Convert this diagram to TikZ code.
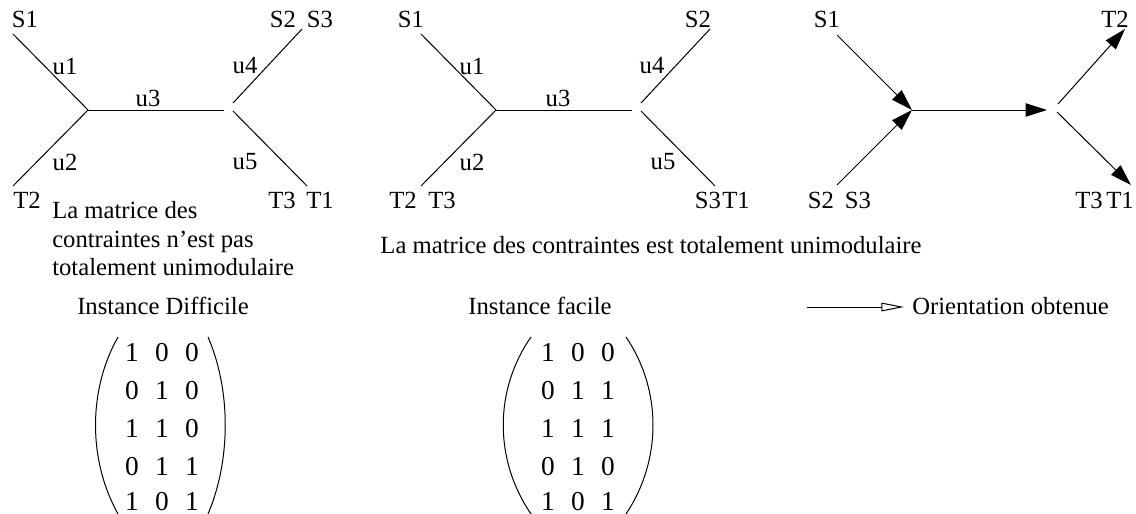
\documentclass[tikz,border=0pt]{standalone}
\usepackage{fontspec}
\setmainfont{Liberation Serif}
\usetikzlibrary{arrows.meta}
\begin{document}
\begin{tikzpicture}[x=0.75pt,y=-0.75pt,
  edge/.style={line width=0.75pt},
  dirarrow/.style={line width=0.75pt,-{Triangle[length=16pt,width=10pt]}},
  legendarrow/.style={line width=0.75pt,-{Triangle[open,length=17pt,width=6.5pt]}},
  lbl/.style={inner sep=0pt,font=\fontsize{18.5}{22}\selectfont},
  digit/.style={inner sep=0pt,anchor=base,font=\fontsize{20.5}{24}\selectfont},
  paren/.style={line width=0.75pt}]
\useasboundingbox (0,0) rectangle (1136,514);

% ---------- Instance difficile : graph ----------
\coordinate (a1) at (13,34);
\coordinate (a2) at (13,186);
\coordinate (aL) at (88,110);
\coordinate (aR) at (224,110);
\coordinate (a4s) at (233,103);
\coordinate (a4) at (302,29);
\coordinate (a5s) at (233,111);
\coordinate (a5) at (307,186);
\draw[edge] (a1) -- (aL) -- (a2);
\draw[edge] (aL) -- (aR);
\draw[edge] (a4s) -- (a4);
\draw[edge] (a5s) -- (a5);
\node[lbl] (aS1) at (25,19) {S1};
\node[lbl] (aU1) at (65,66) {u1};
\node[lbl] (aU3) at (148,98) {u3};
\node[lbl] (aU4) at (245,66) {u4};
\node[lbl] (aS2) at (283,19) {S2};
\node[lbl] (aS3) at (320,19) {S3};
\node[lbl] (aU2) at (65,162) {u2};
\node[lbl] (aU5) at (245,162) {u5};
\node[lbl] (aT2) at (27,200) {T2};
\node[lbl] (aT3) at (282,200) {T3};
\node[lbl] (aT1) at (320,200) {T1};
\node[lbl,anchor=base west] (capA1) at (52,218) {La matrice des};
\node[lbl,anchor=base west] (capA2) at (52,247) {contraintes n'est pas};
\node[lbl,anchor=base west] (capA3) at (52,275) {totalement unimodulaire};

% ---------- Instance facile : graph ----------
\coordinate (b1) at (421,34);
\coordinate (b2) at (421,186);
\coordinate (bL) at (496,110);
\coordinate (bR) at (632,110);
\coordinate (b4s) at (641,103);
\coordinate (b4) at (710,29);
\coordinate (b5s) at (641,111);
\coordinate (b5) at (715,186);
\draw[edge] (b1) -- (bL) -- (b2);
\draw[edge] (bL) -- (bR);
\draw[edge] (b4s) -- (b4);
\draw[edge] (b5s) -- (b5);
\node[lbl] (bS1) at (411,19) {S1};
\node[lbl] (bU1) at (472,66) {u1};
\node[lbl] (bU3) at (558,98) {u3};
\node[lbl] (bU4) at (652,66) {u4};
\node[lbl] (bS2) at (698,19) {S2};
\node[lbl] (bU2) at (472,162) {u2};
\node[lbl] (bU5) at (663,162) {u5};
\node[lbl] (bT2) at (403,200) {T2};
\node[lbl] (bT3) at (442,200) {T3};
\node[lbl] (bS3) at (708,200) {S3};
\node[lbl] (bT1) at (736,200) {T1};
\node[lbl] (capB) at (651,245) {La matrice des contraintes est totalement unimodulaire};

% ---------- Orientation obtenue ----------
\coordinate (c1) at (837,35);
\coordinate (c2) at (837,185);
\coordinate (cL) at (912,110);
\coordinate (cR) at (1047,110);
\coordinate (c4s) at (1058,104);
\coordinate (c4) at (1125,29);
\coordinate (c5s) at (1057,112);
\coordinate (c5) at (1131,185);
\draw[dirarrow] (c1) -- (cL);
\draw[dirarrow] (c2) -- (cL);
\draw[dirarrow] (cL) -- (cR);
\draw[dirarrow] (c4s) -- (c4);
\draw[dirarrow] (c5s) -- (c5);
\node[lbl] (cS1) at (827,19) {S1};
\node[lbl] (cT2) at (1115,19) {T2};
\node[lbl] (cS2) at (821,200) {S2};
\node[lbl] (cS3) at (858,200) {S3};
\node[lbl] (cT3) at (1089,200) {T3};
\node[lbl] (cT1) at (1120,200) {T1};

% ---------- legend ----------
\coordinate (legA) at (807,307);
\coordinate (legB) at (904,307);
\draw[legendarrow] (legA) -- (legB);
\node[lbl,anchor=west] (legT) at (912,306) {Orientation obtenue};

% ---------- titles ----------
\node[lbl] (titA) at (163,306) {Instance Difficile};
\node[lbl] (titB) at (540,306) {Instance facile};

% ---------- matrix of the difficult instance ----------
\draw[paren] (118,337) .. controls (88,390) and (88,460) .. (118,514);
\draw[paren] (208,337) .. controls (231,390) and (231,460) .. (208,514);
\foreach \y/\a/\b/\c in {361/1/0/0,399/0/1/0,437/1/1/0,475/0/1/1,510/1/0/1}{
  \node[digit] at (132,\y) {\a};
  \node[digit] at (162,\y) {\b};
  \node[digit] at (192,\y) {\c};
}

% ---------- matrix of the easy instance ----------
\draw[paren] (531,337) .. controls (494,390) and (494,460) .. (531,514);
\draw[paren] (626,337) .. controls (662,390) and (662,460) .. (626,514);
\foreach \y/\a/\b/\c in {361/1/0/0,399/0/1/1,437/1/1/1,475/0/1/0,510/1/0/1}{
  \node[digit] at (548,\y) {\a};
  \node[digit] at (578,\y) {\b};
  \node[digit] at (608,\y) {\c};
}
\end{tikzpicture}
\end{document}
